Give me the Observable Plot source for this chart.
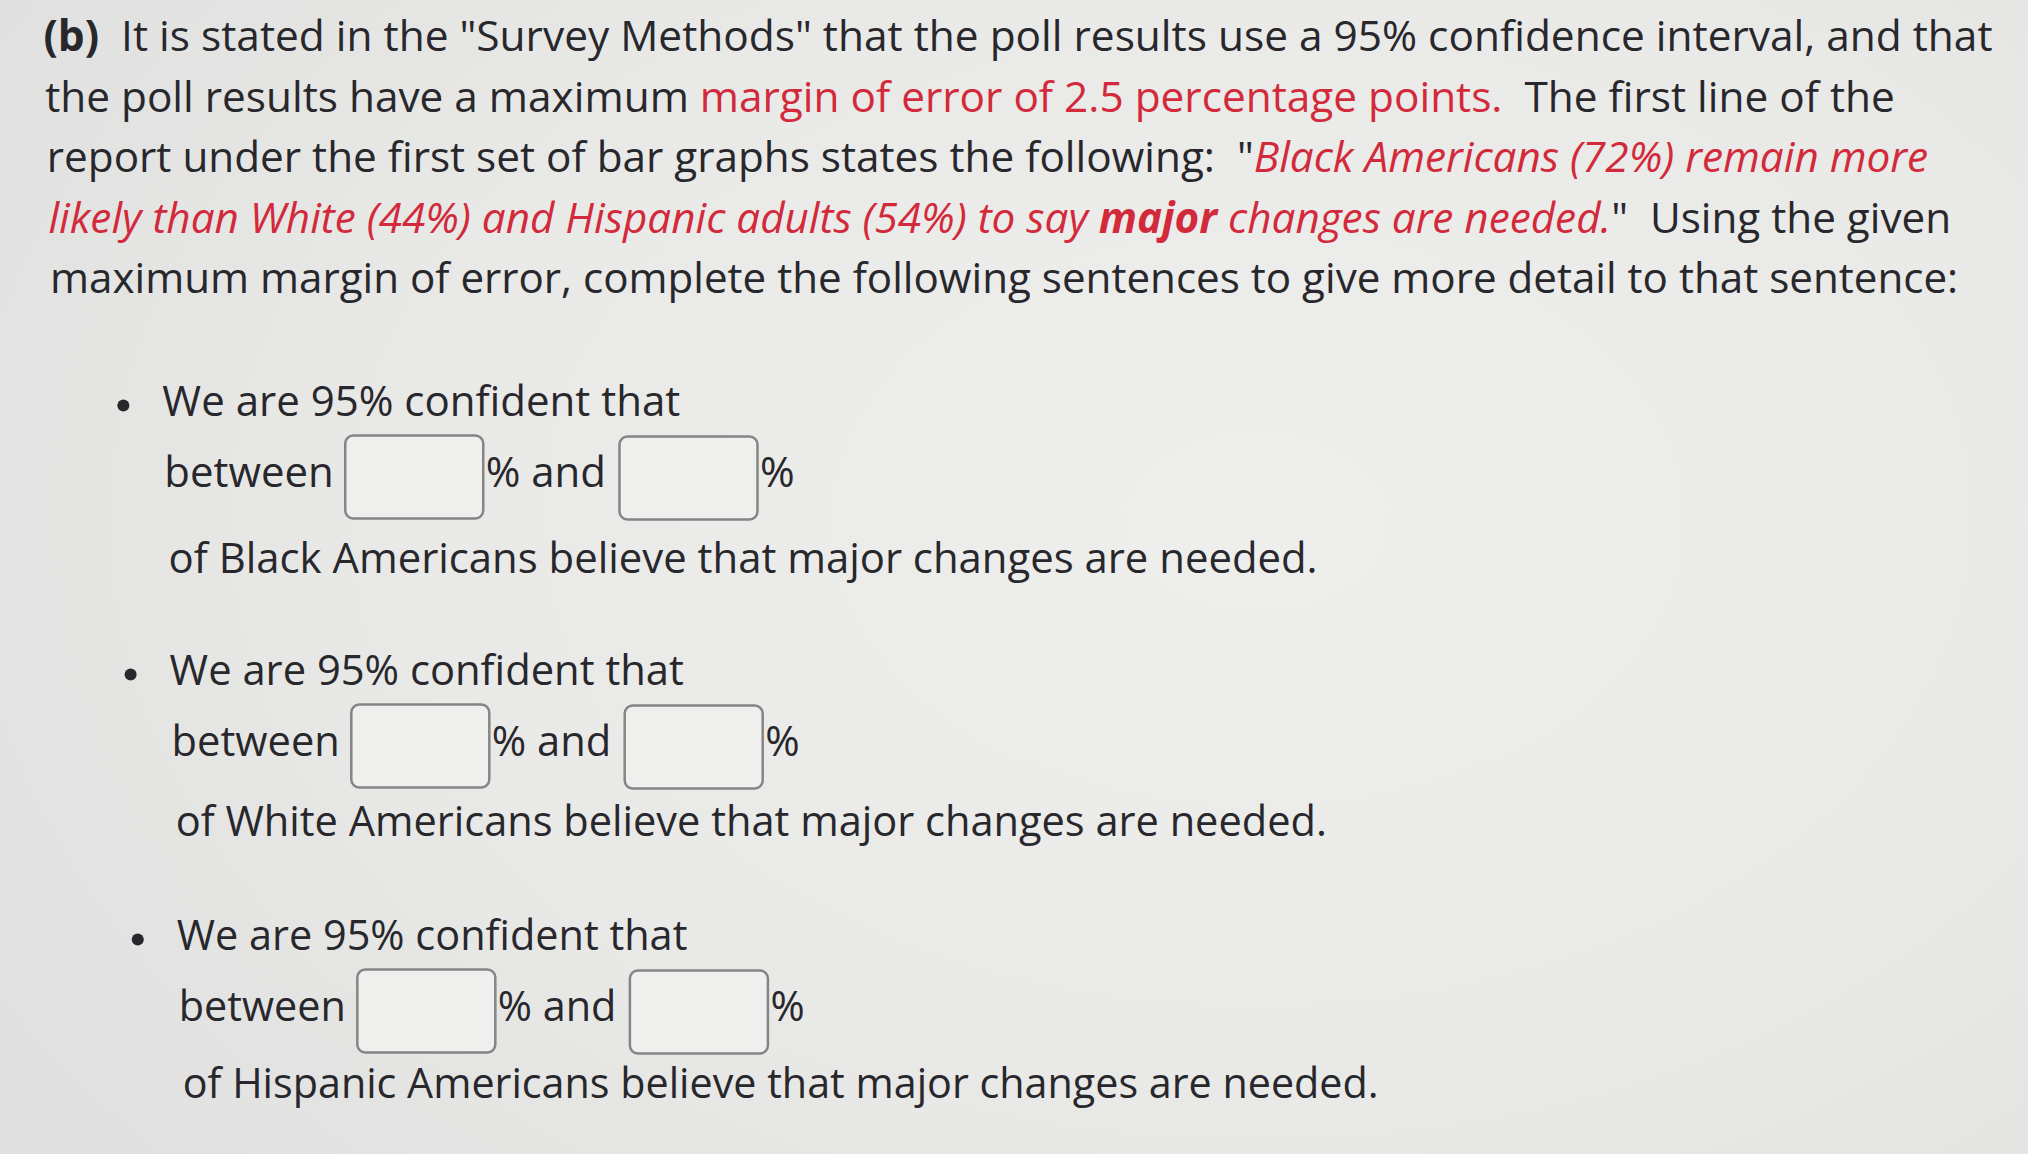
<!DOCTYPE html>
<html>
<head>
<meta charset="utf-8">
<script src="https://cdn.jsdelivr.net/npm/d3@7"></script>
<script src="https://cdn.jsdelivr.net/npm/@observablehq/plot@0.6"></script>
<style>
  html, body { margin: 0; padding: 0; background: #e4e4e2; }
  #chart svg { display: block; }
</style>
</head>
<body>
<div id="chart"></div>
<script>
// ---------- DATA ----------
// Paragraph lines: each is a list of [text, style] segments
const introLines = [
  [["(b)", "bold"], ["  It is stated in the \"Survey Methods\" that the poll results use a 95% confidence interval, and that", "plain"]],
  [["the poll results have a maximum ", "plain"], ["margin of error of 2.5 percentage points.", "red"], ["  The first line of the", "plain"]],
  [["report under the first set of bar graphs states the following:  \"", "plain"], ["Black Americans (72%) remain more", "redItalic"]],
  [["likely than White (44%) and Hispanic adults (54%) to say ", "redItalic"], ["major", "redItalicBold"], [" changes are needed.", "redItalic"], ["\"  Using the given", "plain"]],
  [["maximum margin of error, complete the following sentences to give more detail to that sentence:", "plain"]]
];
const groups = ["Black", "White", "Hispanic"];
const stemText = "We are 95% confident that";
const betweenWords = ["between", "% and", "%"];
const closingText = ["of ", " Americans believe that major changes are needed."];
const lowerAnswers = ["", "", ""];   // blank input boxes
const upperAnswers = ["", "", ""];

// ---------- LAYOUT / STYLE ----------
const W = 2028, H = 1154;
const FS = 42, FONT = "Open Sans";
const DARK = "#27272c", RED = "#d22a3b";
const skew = 0.027;                       // slight photo perspective
const sizeAt = y => FS * (1.011 - 0.000026 * y);
const paraX0 = 42, paraY0 = 37, paraStep = 60.5;
const bulletX0 = 151, blockY = [402, 671, 936];
const betweenOff = 71, closingOff = [157, 151, 148];
const boxW = 138, boxH = 83;

const styles = {
  plain: {fontStyle: "normal", fontWeight: "normal", fill: DARK},
  bold: {fontStyle: "normal", fontWeight: "bold", fill: DARK},
  red: {fontStyle: "normal", fontWeight: "normal", fill: RED},
  redItalic: {fontStyle: "italic", fontWeight: "normal", fill: RED},
  redItalicBold: {fontStyle: "italic", fontWeight: "bold", fill: RED}
};

const ctx = document.createElement("canvas").getContext("2d");
function measure(text, style, fs) {
  const s = styles[style];
  ctx.font = `${s.fontStyle} ${s.fontWeight} ${fs}px "${FONT}"`;
  return ctx.measureText(text).width;
}

const texts = [];
function pushSeg(x, y, text, style) {
  const fs = sizeAt(y);
  const lead = text.match(/^\s*/)[0];
  const body = text.trim();
  if (body) texts.push({x: x + measure(lead, style, fs), y, text: body, style, fs});
  return x + measure(text, style, fs);
}

// paragraph
introLines.forEach((segs, i) => {
  const y = paraY0 + i * paraStep;
  let x = paraX0 + skew * y;
  for (const [t, st] of segs) x = pushSeg(x, y, t, st);
});

// bullets
const dots = [], boxes = [];
groups.forEach((g, k) => {
  const y0 = blockY[k], y1 = blockY[k] + betweenOff, y2 = blockY[k] + closingOff[k];
  const xs0 = bulletX0 + skew * y0;
  dots.push({x: xs0 - 39, y: y0 + 3});
  pushSeg(xs0, y0, stemText, "plain");
  let x = bulletX0 + skew * y1;
  x = pushSeg(x, y1, betweenWords[0], "plain");
  x += 12;
  boxes.push({x1: x, x2: x + boxW, y1: y1 + 4 - boxH / 2, y2: y1 + 4 + boxH / 2, value: lowerAnswers[k]});
  x += boxW + 2;
  x = pushSeg(x, y1, betweenWords[1], "plain");
  x += 14;
  boxes.push({x1: x, x2: x + boxW, y1: y1 + 5 - boxH / 2, y2: y1 + 5 + boxH / 2, value: upperAnswers[k]});
  x += boxW + 2;
  pushSeg(x, y1, betweenWords[2], "plain");
  pushSeg(bulletX0 + 2 + skew * y2, y2, closingText[0] + g + closingText[1], "plain");
});

const textMarks = Object.keys(styles).map(st =>
  Plot.text(texts.filter(d => d.style === st), {
    x: "x", y: "y", text: "text", fontSize: "fs",
    textAnchor: "start", lineAnchor: "middle",
    fontFamily: FONT,
    fontStyle: styles[st].fontStyle, fontWeight: styles[st].fontWeight,
    fill: styles[st].fill
  })
);

const chart = Plot.plot({
  width: W, height: H,
  margin: 0,
  x: {type: "identity", axis: null},
  y: {type: "identity", axis: null},
  style: {
    background: "radial-gradient(ellipse 75% 90% at 62% 45%, #eeeeec 0%, #e9e9e7 55%, #dfe0df 100%)",
    fontFamily: FONT
  },
  marks: [
    Plot.rect(boxes, {x1: "x1", x2: "x2", y1: "y1", y2: "y2", rx: 8, fill: "#efefed", stroke: "#858585", strokeWidth: 2.5}),
    Plot.dot(dots, {x: "x", y: "y", r: 6, fill: DARK, stroke: null}),
    ...textMarks
  ]
});
document.getElementById("chart").appendChild(chart);
</script>
</body>
</html>
